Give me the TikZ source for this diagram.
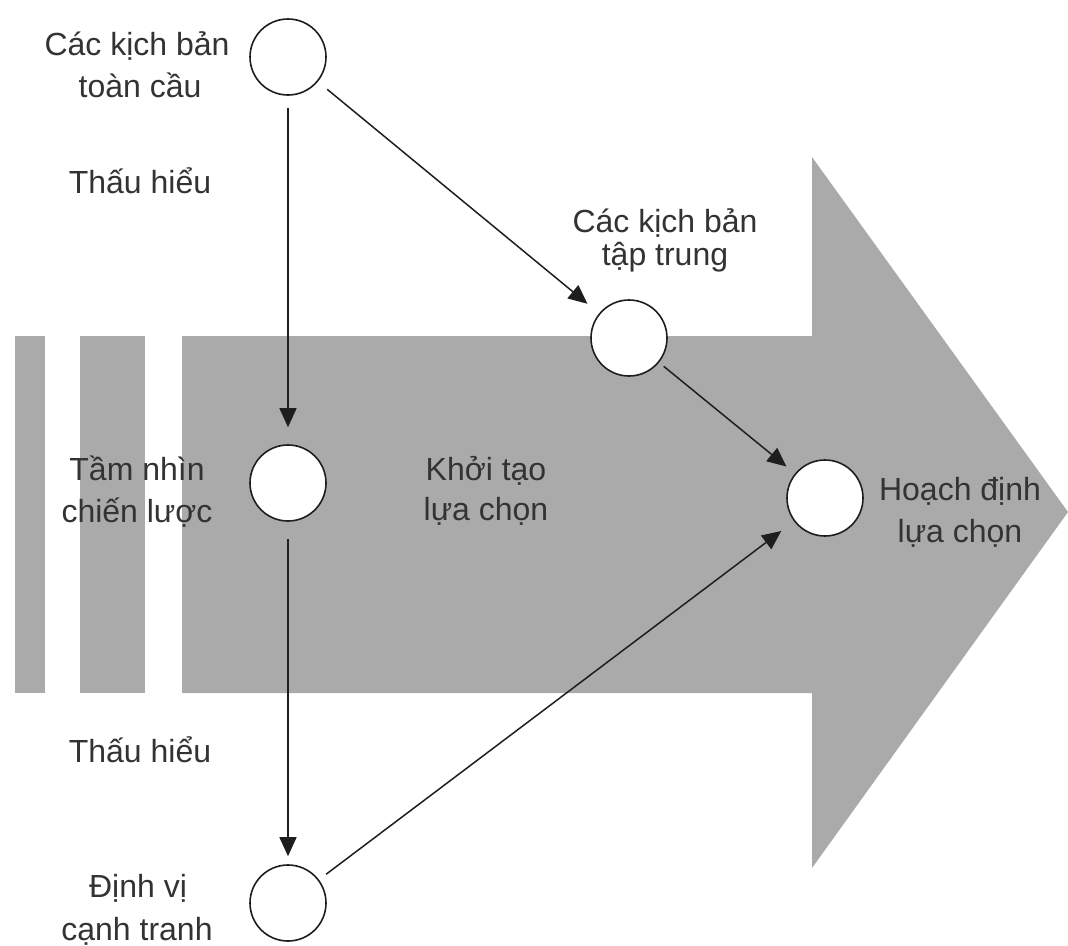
\documentclass[tikz,border=0pt]{standalone}
\usepackage{fontspec}
\setmainfont{Liberation Sans}
\usetikzlibrary{arrows.meta}
\definecolor{band}{HTML}{AAAAAA}
\definecolor{ink}{HTML}{333333}
\definecolor{wire}{HTML}{1E1E1E}
\tikzset{
  x=1pt, y=-1pt,
  station/.style={circle, draw=wire, line width=1.6pt, fill=white, minimum size=76pt, inner sep=0pt},
  lbl/.style={anchor=base, inner sep=0pt, text=ink, font=\fontsize{32}{38}\selectfont},
  arr/.style={draw=wire, line width=1.5pt, -{Triangle[length=19pt,width=17pt]}},
}
\begin{document}
\begin{tikzpicture}
\useasboundingbox (0,0) rectangle (1068,945);
% band bars and big arrow
\fill[band] (15,336) rectangle (45,693);
\fill[band] (80,336) rectangle (145,693);
\fill[band] (182,336) -- (812,336) -- (812,157) -- (1068,512) -- (812,868) -- (812,693) -- (182,693) -- cycle;
% stations
\node[station] (glob) at (288,57) {};
\node[station] (vis) at (288,483) {};
\node[station] (pos) at (288,903) {};
\node[station] (foc) at (629,338) {};
\node[station] (plan) at (825,498) {};
% labels
\node[lbl] (globA) at (137,55) {Các kịch bản};
\node[lbl] (globB) at (140,97) {toàn cầu};
\node[lbl] (thau1) at (140,193) {Thấu hiểu};
\node[lbl] (focA) at (665,232) {Các kịch bản};
\node[lbl] (focB) at (665,265) {tập trung};
\node[lbl] (visA) at (137,480) {Tầm nhìn};
\node[lbl] (visB) at (137,522) {chiến lược};
\node[lbl] (genA) at (486,480) {Khởi tạo};
\node[lbl] (genB) at (486,520) {lựa chọn};
\node[lbl] (planA) at (960,500) {Hoạch định};
\node[lbl] (planB) at (960,542) {lựa chọn};
\node[lbl] (thau2) at (140,762) {Thấu hiểu};
\node[lbl] (posA) at (138,897) {Định vị};
\node[lbl] (posB) at (137,940) {cạnh tranh};
% connectors
\draw[arr, shorten <=12pt, shorten >=17pt] (glob) -- (vis);
\draw[arr, shorten <=17pt, shorten >=8pt] (vis) -- (pos);
\draw[arr, shorten <=12pt, shorten >=15pt] (glob) -- (foc);
\draw[arr, shorten <=6pt, shorten >=11pt] (foc) -- (plan);
\draw[arr, shorten <=9pt, shorten >=16pt] (pos) -- (plan);
\end{tikzpicture}
\end{document}
